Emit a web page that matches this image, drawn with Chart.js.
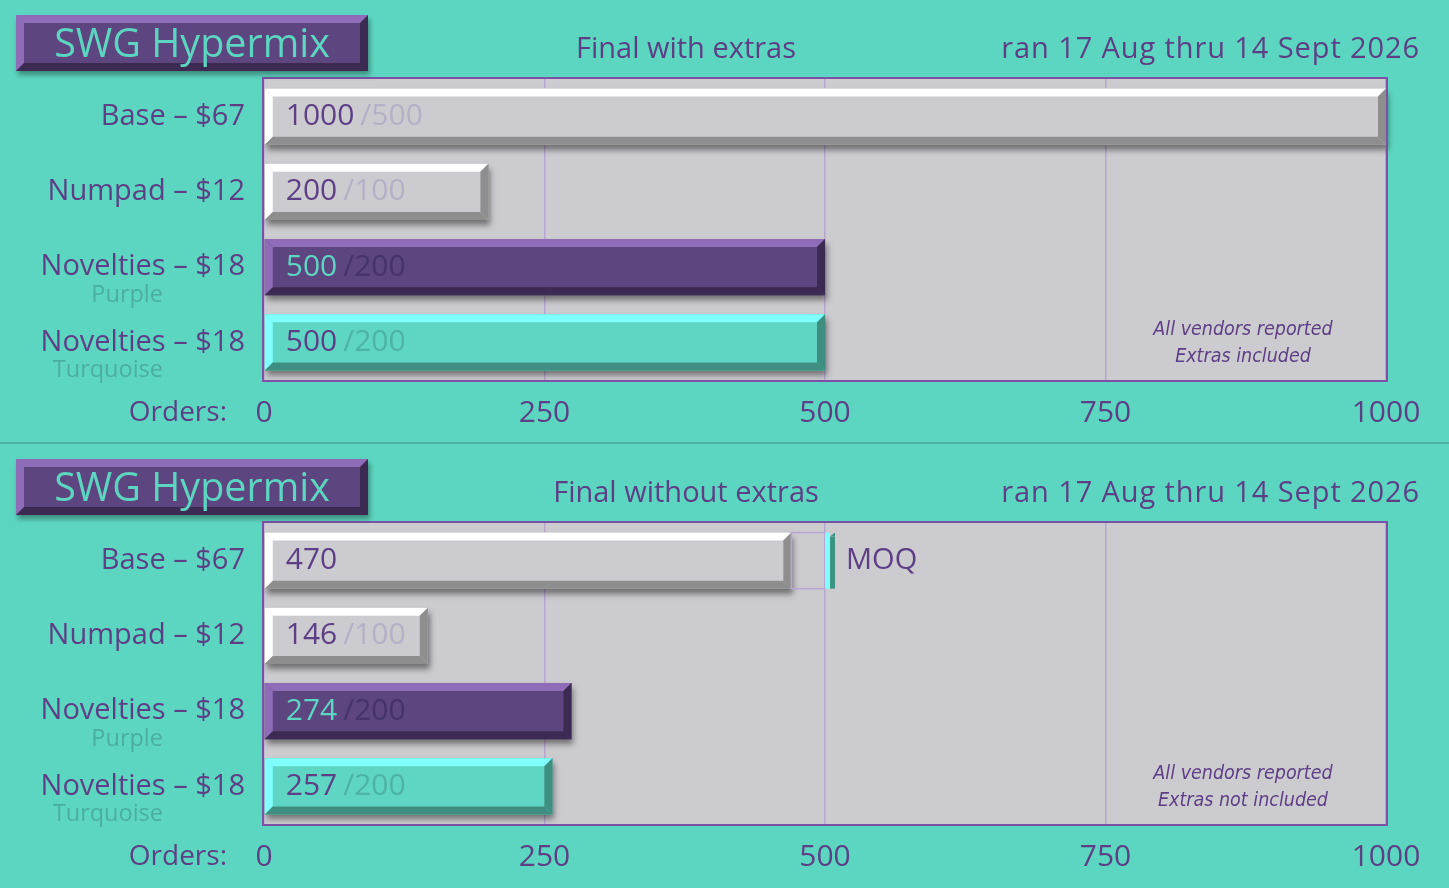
<!DOCTYPE html>
<html>
<head>
<meta charset="utf-8">
<script src="https://cdn.jsdelivr.net/npm/chart.js@4"></script>
<style>
  html, body { margin:0; padding:0; background:#5dd6c1; }
  body { width:1449px; height:888px; position:relative; overflow:hidden; font-family:"Open Sans", sans-serif; }
  .panel { position:absolute; left:0; width:1449px; height:444px; }
  .panel canvas { position:absolute; left:0; top:0; }
  .sep { position:absolute; left:0; top:442px; width:1449px; height:2px; background:#4bb4a3; }
  .tbox { position:absolute; left:16px; top:15px; width:336px; height:40px; background:#5d4580;
          border-style:solid; border-width:8px; border-color:#8e6cb8 #3c2a52 #3c2a52 #8e6cb8;
          box-shadow:2px 4px 5px rgba(0,0,0,0.35); color:#5dd6c1; font-size:39.5px; line-height:38px; text-align:center; white-space:nowrap; }
  .sub { position:absolute; top:30px; left:486px; width:400px; text-align:center; color:#5d3f85; font-size:29px; line-height:34px; }
  .date { position:absolute; top:30px; right:29px; color:#5d3f85; font-size:29px; line-height:34px; white-space:nowrap; letter-spacing:0.9px; }
  .note { position:absolute; left:1093px; width:300px; top:315px; text-align:center; color:#5d3f85; font-style:italic;
          font-family:"Liberation Sans Narrow","DejaVu Sans Condensed",sans-serif; font-stretch:condensed; font-size:19.5px; line-height:27px; }
</style>
</head>
<body>
<div class="panel" id="p1" style="top:0">
  <canvas id="c1" width="1449" height="444"></canvas>
  <div class="tbox">SWG Hypermix</div>
  <div class="sub">Final with extras</div>
  <div class="date">ran 17 Aug thru 14 Sept 2026</div>
  <div class="note">All vendors reported<br>Extras included</div>
</div>
<div class="sep"></div>
<div class="panel" id="p2" style="top:444px">
  <canvas id="c2" width="1449" height="444"></canvas>
  <div class="tbox">SWG Hypermix</div>
  <div class="sub">Final without extras</div>
  <div class="date">ran 17 Aug thru 14 Sept 2026</div>
  <div class="note">All vendors reported<br>Extras not included</div>
</div>
<script>
// ---- data ----
const categories = ['Base – $67', 'Numpad – $12', 'Novelties – $18', 'Novelties – $18'];
const subLabels = ['', '', 'Purple', 'Turquoise'];
const withExtras = [1000, 200, 500, 500];
const withExtrasRef = [500, 100, 200, 200];
const withoutExtras = [470, 146, 274, 257];
const withoutExtrasRef = [null, 100, 200, 200];
const moqWithout = [500, null, null, null];
const xTickValues = [0, 250, 500, 750, 1000];
const axisTitle = 'Orders:';

// ---- styles ----
const PURPLE_TXT = '#5d3f85';
const palettes = [
  { face:'#cccbd0', light:'#ffffff', dark:'#8e8e8e', txt:PURPLE_TXT, sec:'#b6b0c6' },
  { face:'#cccbd0', light:'#ffffff', dark:'#8e8e8e', txt:PURPLE_TXT, sec:'#b6b0c6' },
  { face:'#5d4580', light:'#8e6cb8', dark:'#3c2a52', txt:'#5fd6c3', sec:'#46336a' },
  { face:'#5fd6c3', light:'#80fffe', dark:'#3e8f81', txt:PURPLE_TXT, sec:'#4db3a4' }
];
const FONT = '"Open Sans", sans-serif';

function bevel(ctx, x0, x1, yt, yb, b, light, dark) {
  ctx.fillStyle = light;
  ctx.beginPath(); ctx.moveTo(x0, yt); ctx.lineTo(x1, yt); ctx.lineTo(x1 - b, yt + b); ctx.lineTo(x0 + b, yt + b); ctx.closePath(); ctx.fill();
  ctx.beginPath(); ctx.moveTo(x0, yt); ctx.lineTo(x0 + b, yt + b); ctx.lineTo(x0 + b, yb - b); ctx.lineTo(x0, yb); ctx.closePath(); ctx.fill();
  ctx.fillStyle = dark;
  ctx.beginPath(); ctx.moveTo(x0, yb); ctx.lineTo(x0 + b, yb - b); ctx.lineTo(x1 - b, yb - b); ctx.lineTo(x1, yb); ctx.closePath(); ctx.fill();
  ctx.beginPath(); ctx.moveTo(x1, yt); ctx.lineTo(x1, yb); ctx.lineTo(x1 - b, yb - b); ctx.lineTo(x1 - b, yt + b); ctx.closePath(); ctx.fill();
}

function makeChart(canvasId, values, refs, moq) {
  const plugin = {
    id: 'deco',
    beforeDraw(chart) {
      const { ctx, chartArea: a } = chart;
      ctx.save(); ctx.fillStyle = '#cccbd0'; ctx.fillRect(a.left, a.top, a.right - a.left, a.bottom - a.top); ctx.restore();
    },
    beforeDatasetsDraw(chart) {
      const { ctx } = chart;
      const meta = chart.getDatasetMeta(0);
      ctx.save();
      meta.data.forEach((el) => {
        const p = el.getProps(['x', 'y', 'base', 'height'], true);
        ctx.shadowColor = 'rgba(0,0,0,0.45)'; ctx.shadowBlur = 6; ctx.shadowOffsetX = 2; ctx.shadowOffsetY = 5;
        ctx.fillStyle = '#777';
        ctx.fillRect(p.base, p.y - p.height / 2, p.x - p.base, p.height);
      });
      ctx.restore();
    },
    afterDatasetsDraw(chart) {
      const { ctx, scales } = chart;
      const meta = chart.getDatasetMeta(0);
      ctx.save();
      meta.data.forEach((el, i) => {
        const p = el.getProps(['x', 'y', 'base', 'height'], true);
        const pal = palettes[i];
        const yt = p.y - p.height / 2, yb = p.y + p.height / 2;
        bevel(ctx, p.base, p.x, yt, yb, 8, pal.light, pal.dark);
        // MOQ marker
        if (moq && moq[i] != null) {
          const xm = scales.x.getPixelForValue(moq[i]);
          ctx.strokeStyle = '#b8a5d0'; ctx.lineWidth = 1.5;
          ctx.strokeRect(p.x, yt, xm - p.x, p.height);
          ctx.fillStyle = '#80fffe'; ctx.fillRect(xm, yt, 5, p.height);
          ctx.fillStyle = '#3e9483'; ctx.fillRect(xm + 5, yt + 4, 5, p.height - 4);
          ctx.beginPath(); ctx.moveTo(xm + 5, yt + 4); ctx.lineTo(xm + 10, yt); ctx.lineTo(xm + 10, yt + 4); ctx.closePath(); ctx.fill();
          ctx.fillStyle = PURPLE_TXT; ctx.font = '29px ' + FONT; ctx.textBaseline = 'middle'; ctx.textAlign = 'left';
          ctx.fillText('MOQ', xm + 21, p.y);
        }
        // labels
        ctx.font = '30px ' + FONT; ctx.textBaseline = 'middle'; ctx.textAlign = 'left';
        const t1 = String(values[i]);
        ctx.fillStyle = pal.txt; ctx.fillText(t1, p.base + 21, p.y);
        if (refs[i] != null) {
          const w = ctx.measureText(t1).width;
          ctx.fillStyle = pal.sec; ctx.fillText('/' + refs[i], p.base + 21 + w + 6, p.y);
        }
      });
      ctx.restore();
    },
    afterDraw(chart) {
      const { ctx, chartArea: a, scales } = chart;
      ctx.save();
      ctx.strokeStyle = '#7b52a8'; ctx.lineWidth = 2;
      ctx.strokeRect(a.left - 1, a.top - 1, a.right - a.left + 2, a.bottom - a.top + 2);
      ctx.font = '23.5px ' + FONT; ctx.fillStyle = '#4aaf9e'; ctx.textAlign = 'right'; ctx.textBaseline = 'middle';
      subLabels.forEach((s, i) => { if (s) ctx.fillText(s, 163, scales.y.getPixelForValue(i) + 28); });
      ctx.font = '28px ' + FONT; ctx.fillStyle = PURPLE_TXT;
      ctx.fillText(axisTitle, 227, a.bottom + 33);
      ctx.restore();
    }
  };
  return new Chart(document.getElementById(canvasId), {
    type: 'bar',
    data: {
      labels: categories,
      datasets: [{ data: values, backgroundColor: palettes.map(p => p.face), borderWidth: 0, barPercentage: 0.745, categoryPercentage: 1 }]
    },
    options: {
      indexAxis: 'y', responsive: false, animation: false,
      layout: { padding: { top: 79, right: 63, left: 0, bottom: 0 } },
      plugins: { legend: { display: false }, tooltip: { enabled: false } },
      scales: {
        x: {
          min: 0, max: 1000,
          afterBuildTicks: (s) => { s.ticks = xTickValues.map(v => ({ value: v })); },
          afterFit: (s) => { s.height = 64; },
          grid: { color: '#b8a5d0', lineWidth: 1.5, drawTicks: false },
          border: { display: false },
          ticks: { color: PURPLE_TXT, font: { family: FONT, size: 30 }, padding: 15, maxRotation: 0, autoSkip: false,
                   callback: (v) => String(v) }
        },
        y: {
          afterFit: (s) => { s.width = 264; },
          grid: { display: false, drawTicks: false },
          border: { display: false },
          ticks: { color: PURPLE_TXT, font: { family: FONT, size: 29 }, padding: 19 }
        }
      }
    },
    plugins: [plugin]
  });
}
makeChart('c1', withExtras, withExtrasRef, null);
makeChart('c2', withoutExtras, withoutExtrasRef, moqWithout);
</script>
</body>
</html>
